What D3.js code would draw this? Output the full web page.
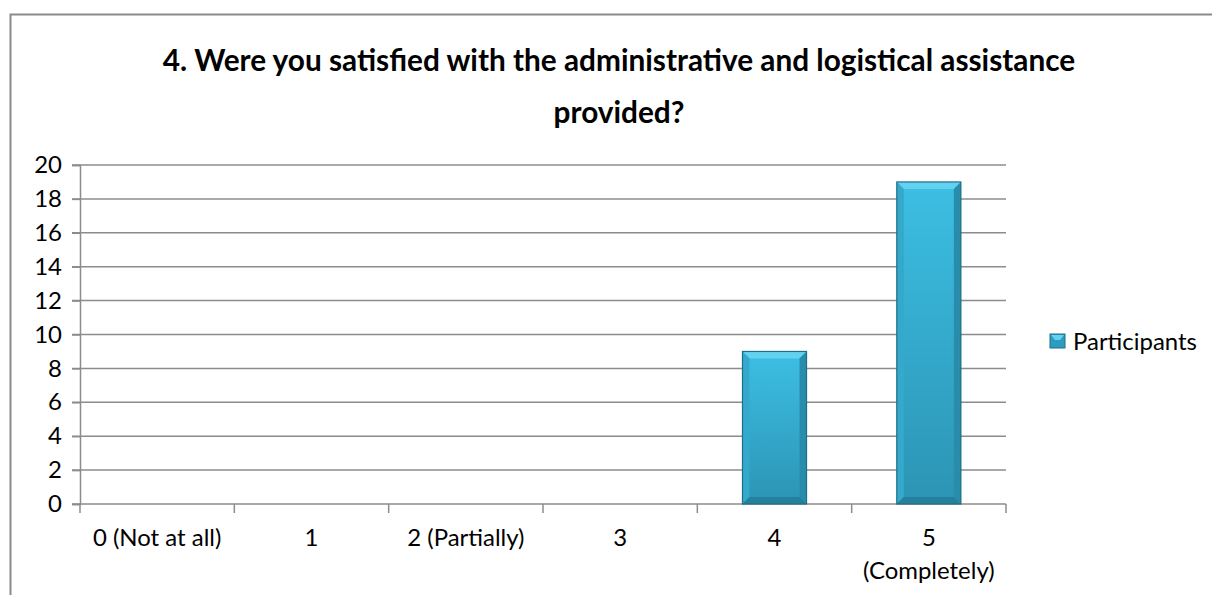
<!DOCTYPE html>
<html>
<head>
<meta charset="utf-8">
<script src="https://cdn.jsdelivr.net/npm/d3@7"></script>
<style>
  html, body { margin: 0; padding: 0; background: #fff; }
  svg { display: block; }
  text { font-family: Lato, "Open Sans", sans-serif; fill: #000; }
</style>
</head>
<body>
<svg id="chart" width="1212" height="595"></svg>
<script>
const titleLines = ["4. Were you satisfied with the administrative and logistical assistance", "provided?"];
const categories = ["0 (Not at all)", "1", "2 (Partially)", "3", "4", "5 (Completely)"];
const categoryLabelLines = [["0 (Not at all)"], ["1"], ["2 (Partially)"], ["3"], ["4"], ["5", "(Completely)"]];
const seriesName = "Participants";
const participants = [0, 0, 0, 0, 9, 19];
const yTicks = [0, 2, 4, 6, 8, 10, 12, 14, 16, 18, 20];

const svg = d3.select("#chart");
const W = 1212, H = 595;
const plot = { left: 80, right: 1006, top: 165, bottom: 504 };

// outer chart border (top & left visible)
svg.append("path")
  .attr("d", `M10.5,${H} L10.5,14.5 L${W},14.5`)
  .attr("fill", "none").attr("stroke", "#8a8a8a").attr("stroke-width", 2);

// font size calibration so widths match the reference (Calibri-like metrics)
function fitSize(str, target, weight, base) {
  const t = svg.append("text").attr("font-size", base).attr("font-weight", weight).text(str);
  const w = t.node().getComputedTextLength();
  t.remove();
  return base * target / w;
}
const bodySize = fitSize("Participants", 124, "normal", 26);
const titleSize = fitSize(titleLines[0], 913, "bold", 28);

const x = d3.scaleBand().domain(categories).range([plot.left, plot.right]).paddingInner(0.585).paddingOuter(0.2925);
const xBounds = d3.scaleBand().domain(categories).range([plot.left, plot.right]);
const y = d3.scaleLinear().domain([0, 20]).range([plot.bottom, plot.top]);

// gridlines
svg.append("g").selectAll("line").data(yTicks.filter(d => d > 0)).join("line")
  .attr("x1", plot.left - 8).attr("x2", plot.right)
  .attr("y1", d => y(d)).attr("y2", d => y(d))
  .attr("stroke", "#8c8c8c").attr("stroke-width", 1.5);

// y axis
const yAxis = d3.axisLeft(y).tickValues(yTicks).tickSize(8).tickPadding(10);
const yg = svg.append("g").attr("transform", `translate(${plot.left},0)`).call(yAxis);
yg.select(".domain").attr("stroke", "#8c8c8c").attr("stroke-width", 1.5);
yg.selectAll(".tick line").attr("stroke", "#8c8c8c").attr("stroke-width", 1.5);
yg.selectAll(".tick text").attr("font-size", bodySize).attr("font-family", "Lato, sans-serif").attr("fill", "#000");

// x axis (category boundaries as ticks)
const xg = svg.append("g");
xg.append("line").attr("x1", plot.left - 8).attr("x2", plot.right)
  .attr("y1", plot.bottom).attr("y2", plot.bottom)
  .attr("stroke", "#8c8c8c").attr("stroke-width", 1.5);
const boundaries = categories.map(c => xBounds(c)).concat([xBounds(categories[categories.length - 1]) + xBounds.bandwidth()]);
xg.selectAll("line.tk").data(boundaries).join("line").attr("class", "tk")
  .attr("x1", d => d).attr("x2", d => d)
  .attr("y1", plot.bottom).attr("y2", plot.bottom + 9)
  .attr("stroke", "#8c8c8c").attr("stroke-width", 1.5);
const labels = xg.selectAll("text").data(categories).join("text")
  .attr("text-anchor", "middle")
  .attr("font-size", bodySize)
  .attr("x", d => xBounds(d) + xBounds.bandwidth() / 2)
  .attr("y", 546);
labels.each(function(d, i) {
  const t = d3.select(this);
  categoryLabelLines[i].forEach((ln, j) => {
    t.append("tspan").attr("x", xBounds(d) + xBounds.bandwidth() / 2)
      .attr("dy", j === 0 ? 0 : 33).text(ln);
  });
});

// gradients
const defs = svg.append("defs");
const g1 = defs.append("linearGradient").attr("id", "barFill").attr("x1", 0).attr("y1", 0).attr("x2", 0).attr("y2", 1);
g1.append("stop").attr("offset", "0%").attr("stop-color", "#3cbfe3");
g1.append("stop").attr("offset", "100%").attr("stop-color", "#2c94b4");

const bev = 7;
const bars = svg.append("g").selectAll("g").data(categories.map((c, i) => ({ c, v: participants[i] })).filter(d => d.v > 0)).join("g");
bars.each(function(d) {
  const g = d3.select(this);
  const x0 = x(d.c), x1 = x0 + x.bandwidth();
  const y0 = y(d.v), y1 = y(0);
  g.append("rect").attr("x", x0).attr("y", y0).attr("width", x1 - x0).attr("height", y1 - y0)
    .attr("fill", "url(#barFill)");
  // top bevel
  g.append("polygon").attr("points", `${x0},${y0} ${x1},${y0} ${x1 - bev},${y0 + bev} ${x0 + bev},${y0 + bev}`).attr("fill", "#63d2f0");
  // left bevel
  g.append("polygon").attr("points", `${x0},${y0} ${x0 + bev},${y0 + bev} ${x0 + bev},${y1 - bev} ${x0},${y1}`).attr("fill", "#34a9cc");
  // right bevel
  g.append("polygon").attr("points", `${x1},${y0} ${x1 - bev},${y0 + bev} ${x1 - bev},${y1 - bev} ${x1},${y1}`).attr("fill", "#2a8cab");
  // bottom bevel
  g.append("polygon").attr("points", `${x0},${y1} ${x0 + bev},${y1 - bev} ${x1 - bev},${y1 - bev} ${x1},${y1}`).attr("fill", "#24809d");
  g.append("rect").attr("x", x0).attr("y", y0).attr("width", x1 - x0).attr("height", y1 - y0)
    .attr("fill", "none").attr("stroke", "#1f6f86").attr("stroke-width", 1.2);
});

// title
const title = svg.append("text").attr("text-anchor", "middle").attr("font-weight", "bold").attr("font-size", titleSize);
titleLines.forEach((ln, j) => {
  title.append("tspan").attr("x", 619).attr("y", j === 0 ? 71 : 123).text(ln);
});

// legend
const lg = svg.append("g").attr("transform", "translate(1050,334)");
lg.append("rect").attr("x", 0).attr("y", 0).attr("width", 15).attr("height", 14).attr("fill", "#2d9cc0").attr("stroke", "#1f6f86");
lg.append("polygon").attr("points", "1,1 14,1 10,6 5,6").attr("fill", "#63d2f0");
lg.append("text").attr("x", 23).attr("y", 16).attr("font-size", bodySize).text(seriesName);
</script>
</body>
</html>
